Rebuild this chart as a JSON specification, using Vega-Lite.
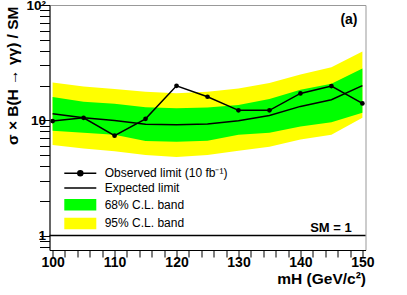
{
  "$schema": "https://vega.github.io/schema/vega-lite/v6.json",
  "width": 316,
  "height": 245,
  "autosize": {"type": "none"},
  "padding": {"left": 49.5, "top": 5, "right": 41.5, "bottom": 45},
  "background": "white",
  "config": {
    "font": "Liberation Sans",
    "view": {"stroke": "#999999", "strokeWidth": 1},
    "axis": {
      "grid": false,
      "domainColor": "black",
      "domainWidth": 1,
      "tickColor": "black",
      "tickWidth": 1,
      "labelColor": "black",
      "titleColor": "black",
      "labelFont": "Liberation Sans",
      "labelFontWeight": "bold",
      "labelFontSize": 14,
      "titleFont": "Liberation Sans",
      "titleFontWeight": "bold",
      "titleFontSize": 15.5,
      "labelFlush": false,
      "labelOverlap": false,
      "labelBound": false
    },
    "legend": {
      "labelFont": "Liberation Sans",
      "labelFontSize": 12,
      "labelColor": "black",
      "rowPadding": 2.7,
      "labelOffset": 18.4,
      "padding": 0,
      "symbolStrokeWidth": 1.5,
      "symbolSize": 100,
      "symbolOpacity": 1
    }
  },
  "datasets": {
    "limits": [
      {"m": 100, "obs": 9.85, "exp": 11.4, "g_lo": 8.1, "g_hi": 15.9, "y_lo": 6.1, "y_hi": 21.3},
      {"m": 105, "obs": 10.5, "exp": 10.5, "g_lo": 7.8, "g_hi": 14.5, "y_lo": 5.7, "y_hi": 19.6},
      {"m": 110, "obs": 7.35, "exp": 9.95, "g_lo": 7.5, "g_hi": 13.9, "y_lo": 5.4, "y_hi": 18.7},
      {"m": 115, "obs": 10.3, "exp": 9.25, "g_lo": 6.6, "g_hi": 13.0, "y_lo": 5.0, "y_hi": 17.7},
      {"m": 120, "obs": 19.9, "exp": 9.15, "g_lo": 6.5, "g_hi": 12.7, "y_lo": 4.8, "y_hi": 17.2},
      {"m": 125, "obs": 16.0, "exp": 9.3, "g_lo": 6.65, "g_hi": 12.9, "y_lo": 5.0, "y_hi": 17.7},
      {"m": 130, "obs": 12.2, "exp": 9.9, "g_lo": 7.5, "g_hi": 13.6, "y_lo": 5.45, "y_hi": 18.9},
      {"m": 135, "obs": 12.2, "exp": 11.0, "g_lo": 7.8, "g_hi": 15.3, "y_lo": 5.9, "y_hi": 21.1},
      {"m": 140, "obs": 17.1, "exp": 13.2, "g_lo": 8.85, "g_hi": 18.4, "y_lo": 6.8, "y_hi": 24.9},
      {"m": 145, "obs": 19.8, "exp": 15.1, "g_lo": 9.6, "g_hi": 20.7, "y_lo": 7.5, "y_hi": 28.8},
      {"m": 150, "obs": 14.0, "exp": 20.0, "g_lo": 11.6, "g_hi": 28.1, "y_lo": 10.5, "y_hi": 39.6}
    ]
  },
  "data": {"name": "limits"},
  "layer": [
    {
      "mark": {"type": "area", "color": "#ffff00"},
      "encoding": {
        "x": {
          "field": "m",
          "type": "quantitative",
          "scale": {"domain": [99.5, 150.5], "nice": false, "zero": false},
          "axis": {
            "values": [100, 102, 104, 106, 108, 110, 112, 114, 116, 118, 120, 122, 124, 126, 128, 130, 132, 134, 136, 138, 140, 142, 144, 146, 148, 150],
            "tickCount": 200,
            "format": "d",
            "labelExpr": "datum.value % 10 === 0 ? datum.label : ''",
            "labelOverlap": false,
            "labelBound": false,
            "labelFlush": false,
            "tickSize": 7,
            "labelPadding": -2,
            "title": "mH (GeV/c²)",
            "titleAnchor": "end",
            "titleAlign": "right",
            "titleBaseline": "alphabetic",
            "titleX": 316,
            "titleY": 33,
            "encode": {
              "ticks": {
                "y2": {"condition": {"test": "datum.value % 10 === 0", "value": -7}, "value": -3.5}
              }
            }
          }
        },
        "y": {
          "field": "y_lo",
          "type": "quantitative",
          "scale": {"type": "log", "domain": [0.75, 100], "nice": false},
          "axis": {
            "values": [0.8, 0.9, 1, 2, 3, 4, 5, 6, 7, 8, 9, 10, 20, 30, 40, 50, 60, 70, 80, 90, 100],
            "tickCount": 200,
            "labelExpr": "datum.value === 1 ? '1' : datum.value === 10 ? '10' : datum.value === 100 ? '10²' : ''",
            "labelOverlap": false,
            "labelBound": false,
            "labelFontSize": 13.5,
            "tickSize": 10,
            "labelPadding": -6,
            "title": "σ × B(H → γγ) / SM",
            "titleAngle": -90,
            "titleAnchor": "end",
            "titleAlign": "right",
            "titleBaseline": "middle",
            "titleX": -37,
            "titleY": 1,
            "encode": {
              "ticks": {
                "x2": {"condition": {"test": "datum.value === 1 || datum.value === 10 || datum.value === 100", "value": 10}, "value": 6}
              }
            }
          }
        },
        "y2": {"field": "y_hi"}
      }
    },
    {
      "mark": {"type": "area", "color": "#00ff00"},
      "encoding": {
        "x": {"field": "m", "type": "quantitative"},
        "y": {"field": "g_lo", "type": "quantitative"},
        "y2": {"field": "g_hi"}
      }
    },
    {
      "mark": {"type": "line", "color": "black", "strokeWidth": 1.5},
      "encoding": {
        "x": {"field": "m", "type": "quantitative"},
        "y": {"field": "exp", "type": "quantitative"}
      }
    },
    {
      "mark": {"type": "line", "color": "black", "strokeWidth": 1.5},
      "encoding": {
        "x": {"field": "m", "type": "quantitative"},
        "y": {"field": "obs", "type": "quantitative"}
      }
    },
    {
      "mark": {"type": "point", "filled": true, "color": "black", "size": 22, "opacity": 1},
      "encoding": {
        "x": {"field": "m", "type": "quantitative"},
        "y": {"field": "obs", "type": "quantitative"}
      }
    },
    {
      "mark": {"type": "point", "filled": true, "size": 0},
      "encoding": {
        "x": {"field": "m", "type": "quantitative"},
        "y": {"field": "obs", "type": "quantitative"},
        "color": {
          "datum": "Observed limit (10 fb⁻¹)",
          "type": "nominal",
          "scale": {"domain": ["Observed limit (10 fb⁻¹)", "Expected limit", "68% C.L. band", "95% C.L. band"], "range": ["black", "black", "#00ff00", "#ffff00"]},
          "legend": {"title": null, "orient": "none", "legendX": 24.8, "legendY": 162.3}
        },
        "stroke": {
          "datum": "Observed limit (10 fb⁻¹)",
          "type": "nominal",
          "scale": {"domain": ["Observed limit (10 fb⁻¹)", "Expected limit", "68% C.L. band", "95% C.L. band"], "range": ["black", "black", "#00ff00", "#ffff00"]},
          "legend": {"title": null, "orient": "none", "legendX": 24.8, "legendY": 162.3}
        },
        "shape": {
          "datum": "Observed limit (10 fb⁻¹)",
          "type": "nominal",
          "scale": {
            "domain": ["Observed limit (10 fb⁻¹)", "Expected limit", "68% C.L. band", "95% C.L. band"],
            "range": [
              "M-3.2,0H3.2M-0.5,0A0.5,0.5,0,1,0,0.5,0A0.5,0.5,0,1,0,-0.5,0Z",
              "M-3.2,0H3.2",
              "M-3.05,-1H3.05V1H-3.05Z",
              "M-3.05,-1H3.05V1H-3.05Z"
            ]
          },
          "legend": {"title": null, "orient": "none", "legendX": 24.8, "legendY": 162.3}
        }
      }
    },
    {
      "data": {"values": [{}]},
      "mark": {"type": "rule", "color": "black", "strokeWidth": 1.5},
      "encoding": {
        "y": {"datum": 1, "type": "quantitative"}
      }
    },
    {
      "data": {"values": [{}]},
      "mark": {"type": "text", "align": "right", "baseline": "alphabetic", "font": "Liberation Sans", "fontWeight": "bold", "fontSize": 13, "color": "black"},
      "encoding": {
        "x": {"datum": 148.27, "type": "quantitative"},
        "y": {"datum": 1.07, "type": "quantitative"},
        "text": {"value": "SM = 1"}
      }
    },
    {
      "data": {"values": [{}]},
      "mark": {"type": "text", "align": "right", "baseline": "alphabetic", "font": "Liberation Sans", "fontWeight": "bold", "fontSize": 14, "color": "black"},
      "encoding": {
        "x": {"datum": 149.21, "type": "quantitative"},
        "y": {"datum": 68.7, "type": "quantitative"},
        "text": {"value": "(a)"}
      }
    }
  ]
}
